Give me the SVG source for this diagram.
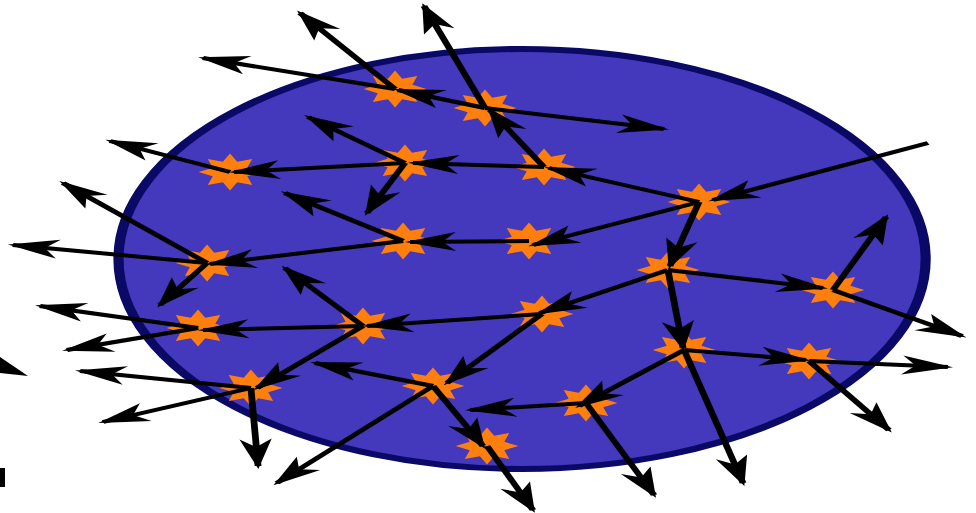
<svg xmlns="http://www.w3.org/2000/svg" xmlns:xlink="http://www.w3.org/1999/xlink" width="976" height="513" viewBox="0 0 976 513">
<style>
.a{stroke:#000;stroke-width:4;fill:none;marker-end:url(#ah)}
.s{fill:#ff7f0e}
</style>
<defs>
<marker id="ah" markerUnits="userSpaceOnUse" viewBox="-32 -11 36 22" markerWidth="36" markerHeight="22" refX="0" refY="0" orient="auto">
<path d="M3,0 L-27,-9.5 L-19,0 L-27,9.5 Z" fill="#000"/>
</marker>
<path id="star" d="M18.5,0 L10.16,4.21 L13.08,13.08 L4.21,10.16 L0,18.5 L-4.21,10.16 L-13.08,13.08 L-10.16,4.21 L-18.5,0 L-10.16,-4.21 L-13.08,-13.08 L-4.21,-10.16 L0,-18.5 L4.21,-10.16 L13.08,-13.08 L10.16,-4.21 Z"/>
</defs>
<rect width="976" height="513" fill="#fff"/>
<g transform="scale(1.7,1)">
<ellipse id="core" cx="307.1" cy="259" rx="237.4" ry="210" fill="#4438bd" stroke="#0a0a66" stroke-width="6"/>
<g id="nuclei" class="s">
<use id="n1" xlink:href="#star" x="232.4" y="89"/>
<use id="n2" xlink:href="#star" x="285.3" y="108"/>
<use id="n3" xlink:href="#star" x="135.3" y="172"/>
<use id="n4" xlink:href="#star" x="238.2" y="163"/>
<use id="n5" xlink:href="#star" x="320" y="167"/>
<use id="n6" xlink:href="#star" x="411.2" y="202"/>
<use id="n7" xlink:href="#star" x="237.1" y="241"/>
<use id="n8" xlink:href="#star" x="311.2" y="241"/>
<use id="n9" xlink:href="#star" x="121.8" y="263"/>
<use id="n10" xlink:href="#star" x="392.9" y="270"/>
<use id="n11" xlink:href="#star" x="490" y="290"/>
<use id="n12" xlink:href="#star" x="116.5" y="328"/>
<use id="n13" xlink:href="#star" x="213.5" y="326"/>
<use id="n14" xlink:href="#star" x="318.8" y="314"/>
<use id="n15" xlink:href="#star" x="402.4" y="350"/>
<use id="n16" xlink:href="#star" x="475.9" y="361"/>
<use id="n17" xlink:href="#star" x="147.6" y="388"/>
<use id="n18" xlink:href="#star" x="254.7" y="386"/>
<use id="n19" xlink:href="#star" x="344.7" y="403"/>
<use id="n20" xlink:href="#star" x="286.5" y="446"/>
</g>
<g id="neutrons">
<line class="a" x1="545.9" y1="143" x2="419.4" y2="200"/>
<line class="a" x1="411.2" y1="202" x2="322.9" y2="168"/>
<line class="a" x1="411.2" y1="202" x2="313.5" y2="245"/>
<line class="a" x1="411.2" y1="202" x2="394.1" y2="266"/>
<line class="a" x1="320" y1="167" x2="288.2" y2="110"/>
<line class="a" x1="320" y1="167" x2="242.9" y2="163"/>
<line class="a" x1="285.3" y1="108" x2="249.4" y2="6"/>
<line class="a" x1="285.3" y1="108" x2="390.6" y2="129"/>
<line class="a" x1="285.3" y1="108" x2="234.1" y2="90"/>
<line class="a" x1="232.4" y1="89" x2="176.5" y2="13"/>
<line class="a" x1="232.4" y1="89" x2="119.4" y2="58"/>
<line class="a" x1="238.2" y1="163" x2="181.2" y2="117"/>
<line class="a" x1="238.2" y1="163" x2="137.6" y2="172"/>
<line class="a" x1="238.2" y1="163" x2="215.9" y2="213"/>
<line class="a" x1="135.3" y1="172" x2="64.7" y2="141"/>
<line class="a" x1="311.2" y1="241" x2="241.2" y2="242"/>
<line class="a" x1="237.1" y1="241" x2="167.6" y2="193"/>
<line class="a" x1="237.1" y1="241" x2="123.5" y2="264"/>
<line class="a" x1="121.8" y1="263" x2="7.6" y2="245"/>
<line class="a" x1="121.8" y1="263" x2="37.1" y2="183"/>
<line class="a" x1="121.8" y1="263" x2="94.1" y2="305"/>
<line class="a" x1="392.9" y1="270" x2="317.6" y2="313"/>
<line class="a" x1="392.9" y1="270" x2="484.1" y2="288"/>
<line class="a" x1="392.9" y1="270" x2="401.8" y2="348"/>
<line class="a" x1="490" y1="290" x2="521.2" y2="217"/>
<line class="a" x1="490" y1="290" x2="565.9" y2="336"/>
<line class="a" x1="318.8" y1="314" x2="215.9" y2="326"/>
<line class="a" x1="318.8" y1="314" x2="262.9" y2="383"/>
<line class="a" x1="213.5" y1="326" x2="167.6" y2="268"/>
<line class="a" x1="213.5" y1="326" x2="119.4" y2="330"/>
<line class="a" x1="213.5" y1="326" x2="151.2" y2="388"/>
<line class="a" x1="116.5" y1="328" x2="23.5" y2="306"/>
<line class="a" x1="116.5" y1="328" x2="39.4" y2="350"/>
<line class="a" x1="147.6" y1="388" x2="47.1" y2="371"/>
<line class="a" x1="147.6" y1="388" x2="60.6" y2="422"/>
<line class="a" x1="147.6" y1="388" x2="151.8" y2="466"/>
<line class="a" x1="254.7" y1="386" x2="185.3" y2="363"/>
<line class="a" x1="254.7" y1="386" x2="162.9" y2="483"/>
<line class="a" x1="254.7" y1="386" x2="284.1" y2="446"/>
<line class="a" x1="402.4" y1="350" x2="340.6" y2="406"/>
<line class="a" x1="402.4" y1="350" x2="474.1" y2="360"/>
<line class="a" x1="402.4" y1="350" x2="437.1" y2="483"/>
<line class="a" x1="475.9" y1="361" x2="557.6" y2="367"/>
<line class="a" x1="475.9" y1="361" x2="522.9" y2="430"/>
<line class="a" x1="344.7" y1="403" x2="276.5" y2="410"/>
<line class="a" x1="344.7" y1="403" x2="384.7" y2="495"/>
<line class="a" x1="286.5" y1="446" x2="313.5" y2="510"/>
</g>
</g>
<g id="edge-fragments" fill="#000">
<polygon points="0,357 28,376 0,373"/>
<rect x="0" y="468" width="5" height="19"/>
</g>
</svg>
